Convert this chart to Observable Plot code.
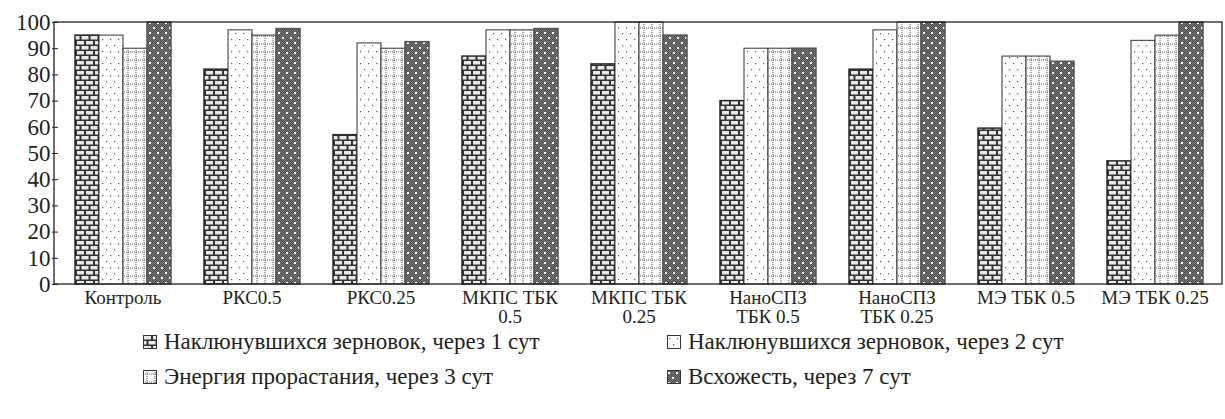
<!DOCTYPE html>
<html><head><meta charset="utf-8">
<script src="https://cdn.jsdelivr.net/npm/d3@7"></script>
<script src="https://cdn.jsdelivr.net/npm/@observablehq/plot@0.6"></script>
<style>
body{margin:0;background:#fff;font-family:"Liberation Serif","Times New Roman","Tinos","DejaVu Serif",serif;color:#231f20;}
#legend{display:grid;grid-template-columns:524px auto;padding-left:143px;font-size:23px;}
.item{display:flex;align-items:center;white-space:nowrap;height:35px;}
.item svg{margin-right:7px;}
</style></head><body>
<svg width="0" height="0" style="position:absolute">
<defs>
<pattern id="chk" width="2" height="2" patternUnits="userSpaceOnUse">
  <rect width="2" height="2" fill="#7c7c7c"/>
  <rect width="1" height="1" fill="#4a4a4a"/>
  <rect x="1" y="1" width="1" height="1" fill="#4a4a4a"/>
</pattern>
<pattern id="p1" width="9" height="10" patternUnits="userSpaceOnUse">
  <rect width="9" height="10" fill="#333"/>
  <rect x="1" y="1" width="7" height="3.5" fill="#e9e9e9"/>
  <rect x="-3.5" y="6" width="7" height="3.5" fill="#e9e9e9"/>
  <rect x="5.5" y="6" width="7" height="3.5" fill="#e9e9e9"/>
</pattern>
<pattern id="p2" width="8" height="12" patternUnits="userSpaceOnUse">
  <rect width="8" height="12" fill="#fff"/>
  <rect x="2" y="3" width="1.2" height="1.2" fill="#555"/>
  <rect x="6" y="9" width="1.2" height="1.2" fill="#555"/>
</pattern>
<pattern id="p3" width="8" height="8" patternUnits="userSpaceOnUse">
  <rect width="8" height="8" fill="#fff"/>
  <path d="M4,0V8M0,4H8" stroke="#555" stroke-width="1" stroke-dasharray="1,1"/>
</pattern>
<pattern id="p4" width="8" height="10" patternUnits="userSpaceOnUse">
  <rect width="8" height="10" fill="url(#chk)"/>
  <rect x="1" y="2" width="2" height="2" fill="#fff"/>
  <rect x="5" y="7" width="2" height="2" fill="#fff"/>
</pattern>
</defs></svg>
<div id="chart"></div>
<div id="legend"></div>
<script>
const categories = ["Контроль","РКС0.5","РКС0.25","МКПС ТБК 0.5","МКПС ТБК 0.25","НаноСПЗ ТБК 0.5","НаноСПЗ ТБК 0.25","МЭ ТБК 0.5","МЭ ТБК 0.25"];
const tickLabels = ["Контроль","РКС0.5","РКС0.25","МКПС ТБК\n0.5","МКПС ТБК\n0.25","НаноСПЗ\nТБК 0.5","НаноСПЗ\nТБК 0.25","МЭ ТБК 0.5","МЭ ТБК 0.25"];
const seriesNames = ["Наклюнувшихся зерновок, через 1 сут","Наклюнувшихся зерновок, через 2 сут","Энергия прорастания, через 3 сут","Всхожесть, через 7 сут"];
const day1 = [95, 82, 57, 87, 84, 70, 82, 59.5, 47];
const day2 = [95, 97, 92, 97, 100, 90, 97, 87, 93];
const day3 = [90, 95, 90, 97, 100, 90, 100, 87, 95];
const day7 = [100, 97.5, 92.5, 97.5, 95, 90, 100, 85, 100];
const yTicks = [0,10,20,30,40,50,60,70,80,90,100];

const seriesValues = [day1, day2, day3, day7];
const fills = ["url(#p1)","url(#p2)","url(#p3)","url(#p4)"];
const strokes = ["#2a2a2a","#333","#333","#555"];
const strokeWidths = [1.5, 1, 1, 1.5];
const serif = '"Liberation Serif","Times New Roman","Tinos","DejaVu Serif",serif';

const rows = [];
seriesNames.forEach((s, i) => categories.forEach((c, j) => rows.push({category: c, series: s, value: seriesValues[i][j]})));

const plot = Plot.plot({
  width: 1225, height: 324,
  marginTop: 22, marginBottom: 40, marginLeft: 54, marginRight: 3,
  style: {fontFamily: serif, fontSize: "19px", color: "#231f20", background: "#fff", overflow: "visible"},
  fx: {domain: categories, padding: 0, label: null},
  x: {domain: seriesNames, paddingInner: 0, paddingOuter: 0.63, axis: null},
  y: {domain: [0, 100], label: null},
  color: {type: "ordinal", domain: seriesNames, range: fills},
  marks: [
    Plot.axisY({ticks: yTicks, tickSize: 6, tickPadding: 2, fontSize: 23, label: null, stroke: "#231f20"}),
    Plot.axisFx({anchor: "bottom", tickSize: 0, tickPadding: 6, fontSize: 19, label: null, lineHeight: 1, tickFormat: d => tickLabels[categories.indexOf(d)]}),
    ...seriesNames.map((s, i) => Plot.barY(rows.filter(r => r.series === s), {
      fx: "category", x: "series", y: "value", fill: "series",
      stroke: strokes[i], strokeWidth: strokeWidths[i]
    }))
  ]
});
plot.style.fontFamily = serif;
const fxr = plot.scale("fx").range, yr = plot.scale("y").range;
d3.select(plot).append("rect")
  .attr("x", Math.min(...fxr)).attr("y", Math.min(...yr))
  .attr("width", Math.abs(fxr[1]-fxr[0])).attr("height", Math.abs(yr[1]-yr[0]))
  .attr("fill", "none").attr("stroke", "#231f20").attr("stroke-width", 1.3);
document.getElementById("chart").appendChild(plot);

const legend = d3.select("#legend");
[0, 1, 2, 3].forEach(i => {
  const it = legend.append("div").attr("class", "item");
  const sw = it.append("svg").attr("width", 14).attr("height", 14);
  sw.append("rect").attr("x", 0.5).attr("y", 0.5).attr("width", 13).attr("height", 13)
    .attr("fill", fills[i]).attr("stroke", "#333").attr("stroke-width", 1);
  it.append("span").text(seriesNames[i]);
});
</script>
</body></html>
